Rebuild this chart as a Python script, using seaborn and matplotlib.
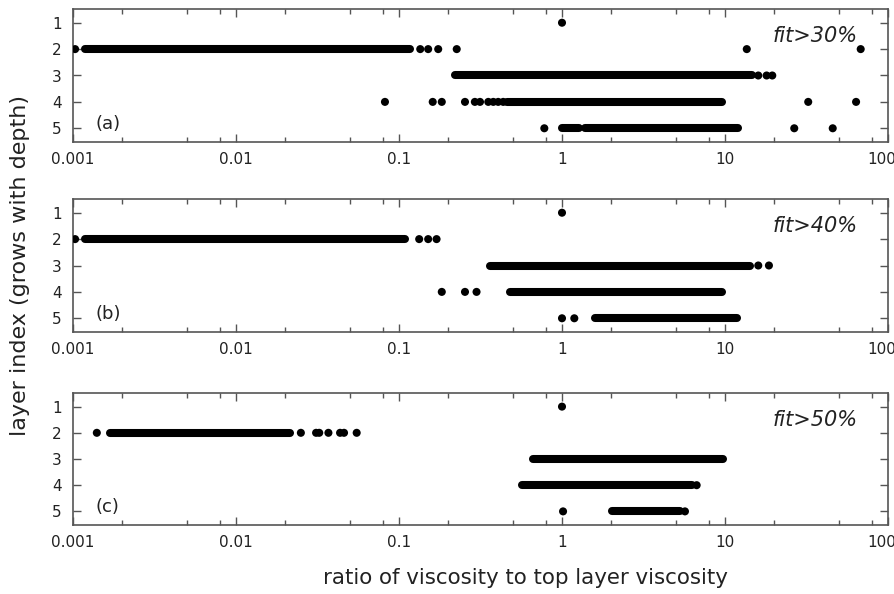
import numpy as np
import pandas as pd
import matplotlib
matplotlib.use("Agg")
import matplotlib.pyplot as plt
import matplotlib.transforms as mtransforms
from matplotlib.ticker import FixedLocator, NullFormatter
import seaborn as sns

# ---------------- data ----------------
# isolated points: x = viscosity ratio, y = layer index
a_pts_x = [1.0, 0.00103, 0.135, 0.151, 0.174, 0.226, 13.6, 68.0,
           16.0, 18.0, 19.5,
           0.082, 0.161, 0.183, 0.254, 0.292, 0.314, 0.353, 0.379, 0.406, 0.436, 32.4, 63.7,
           0.779, 26.6, 45.8]
a_pts_layer = [1, 2, 2, 2, 2, 2, 2, 2,
               3, 3, 3,
               4, 4, 4, 4, 4, 4, 4, 4, 4, 4, 4, 4,
               5, 5, 5]
# dense runs of points: start, end, layer
a_run_start = [0.00118, 0.221, 0.458, 1.0, 1.38]
a_run_end = [0.117, 14.6, 9.55, 1.27, 12.1]
a_run_layer = [2, 3, 4, 5, 5]

b_pts_x = [1.0, 0.00103, 0.133, 0.151, 0.170,
           16.0, 18.6,
           0.183, 0.254, 0.299,
           1.0, 1.19]
b_pts_layer = [1, 2, 2, 2, 2,
               3, 3,
               4, 4, 4,
               5, 5]
b_run_start = [0.00118, 0.361, 0.48, 1.59]
b_run_end = [0.109, 14.2, 9.55, 11.8]
b_run_layer = [2, 3, 4, 5]

c_pts_x = [1.0, 0.0014, 0.025, 0.031, 0.0324, 0.0369, 0.0435, 0.046, 0.055,
           6.70, 1.015, 5.68]
c_pts_layer = [1, 2, 2, 2, 2, 2, 2, 2, 2,
               4, 5, 5]
c_run_start = [0.00169, 0.667, 0.566, 2.02]
c_run_end = [0.0214, 9.77, 6.25, 5.30]
c_run_layer = [2, 3, 4, 5]

panel_tags = ["(a)", "(b)", "(c)"]
fit_labels = ["fit>30%", "fit>40%", "fit>50%"]
layer_ticks = [1, 2, 3, 4, 5]
x_major = [0.001, 0.01, 0.1, 1, 10, 100]
x_major_labels = ["0.001", "0.01", "0.1", "1", "10", "100"]
x_minor_mult = [2, 5, 8]
xlabel = "ratio of viscosity to top layer viscosity"
ylabel = "layer index (grows with depth)"

# ---------------- figure ----------------
sns.set_style("white")
plt.rcParams["font.family"] = ["DejaVu Sans"]

fig = plt.figure(figsize=(8.95, 5.94), dpi=100)
W, H = 895.0, 594.0
left, right = 73, 888
boxes = [(9, 142), (199, 332), (393, 525)]

panels = [
    (a_pts_x, a_pts_layer, a_run_start, a_run_end, a_run_layer),
    (b_pts_x, b_pts_layer, b_run_start, b_run_end, b_run_layer),
    (c_pts_x, c_pts_layer, c_run_start, c_run_end, c_run_layer),
]

spine_col = "#555555"
text_col = "#222222"
dot_pt = 5.8

minor_ticks = [m * d for d in x_major[:-1] for m in x_minor_mult]

for i, (px, pl, rs, re_, rl) in enumerate(panels):
    top, bot = boxes[i]
    ax = fig.add_axes([left / W, 1 - bot / H, (right - left) / W, (bot - top) / H])

    # runs of densely packed points drawn as thick round-capped segments
    run_df = pd.DataFrame({
        "x": list(rs) + list(re_),
        "layer": list(rl) + list(rl),
        "run": list(range(len(rs))) * 2,
    })
    sns.lineplot(data=run_df, x="x", y="layer", units="run", estimator=None,
                 color="black", lw=dot_pt, ax=ax, legend=False, sort=True)
    for ln in ax.lines:
        ln.set_solid_capstyle("round")

    pt_df = pd.DataFrame({"x": px, "layer": pl})
    sns.scatterplot(data=pt_df, x="x", y="layer", color="black", s=dot_pt ** 2,
                    edgecolor="none", linewidth=0, ax=ax, legend=False, zorder=3)

    ax.set_xscale("log")
    ax.set_xlim(0.001, 100)
    ax.set_ylim(5.52, 0.48)
    ax.set_xlabel("")
    ax.set_ylabel("")

    ax.xaxis.set_major_locator(FixedLocator(x_major))
    ax.set_xticklabels(x_major_labels)
    ax.xaxis.set_minor_locator(FixedLocator(minor_ticks))
    ax.xaxis.set_minor_formatter(NullFormatter())
    ax.set_yticks(layer_ticks)
    ax.set_yticklabels([str(t) for t in layer_ticks])

    ax.tick_params(axis="x", which="major", direction="in", length=5.5, width=1.0,
                   color=spine_col, top=True, bottom=True, labelsize=11, pad=7,
                   labelcolor=text_col)
    ax.tick_params(axis="x", which="minor", direction="in", length=3.5, width=1.0,
                   color=spine_col, top=True, bottom=True)
    ax.tick_params(axis="y", which="major", direction="in", length=6, width=1.0,
                   color=spine_col, left=True, right=True, labelsize=11, pad=8,
                   labelcolor=text_col)

    # keep the last x label ("100") inside the figure edge
    last = ax.get_xticklabels()[-1]
    last.set_transform(last.get_transform() +
                       mtransforms.ScaledTranslation(-6 / 100, 0, fig.dpi_scale_trans))

    for sp in ax.spines.values():
        sp.set_color(spine_col)
        sp.set_linewidth(1.2)
        sp.set_visible(True)

    ax.text(0.027, 0.135, panel_tags[i], transform=ax.transAxes, fontsize=13,
            ha="left", va="center", color=text_col)
    ax.text(0.963, 1 - 33 / (bot - top), fit_labels[i], transform=ax.transAxes,
            fontsize=15, style="italic", ha="right", va="baseline", color=text_col)

fig.text(20 / W, 1 - 265 / H, ylabel, rotation=90, fontsize=16,
         ha="center", va="center", color=text_col)
fig.text(525 / W, 1 - 578 / H, xlabel, fontsize=15.4,
         ha="center", va="center", color=text_col)

fig.savefig("out.png", dpi=100)
